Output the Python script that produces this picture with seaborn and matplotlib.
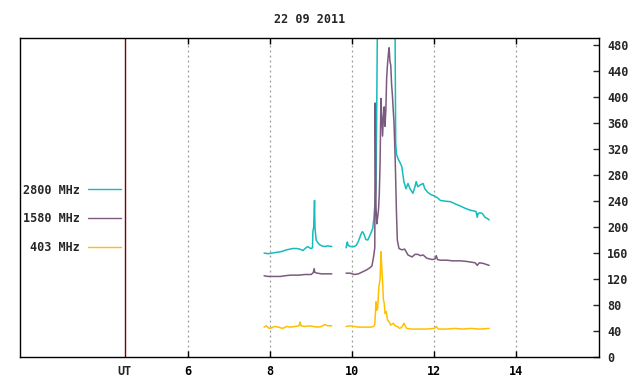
import numpy as np
import pandas as pd
import matplotlib
matplotlib.use("Agg")
import matplotlib.pyplot as plt
from matplotlib.lines import Line2D
import seaborn as sns

TITLE = "22 09 2011"
FREQ_LABELS = ["2800 MHz", "1580 MHz", "403 MHz"]
COLORS = ["#14bcbc", "#7b5a7e", "#ffc000"]

# two segments per series (gap around 9.5 - 9.85 UT)
T2800_A = [7.85, 7.95, 8.05, 8.15, 8.25, 8.31, 8.40, 8.48, 8.55, 8.65, 8.72, 8.80, 8.85,
           8.91, 8.96, 8.99, 9.03, 9.04, 9.06, 9.08, 9.09, 9.10, 9.12, 9.16, 9.20, 9.26,
           9.33, 9.40, 9.50]
V2800_A = [160, 159, 160, 161, 162, 163, 165, 166, 167, 167, 166, 164, 167,
           170, 168, 167, 168, 193, 200, 241, 200, 193, 180, 176, 173, 171,
           170, 171, 170]
T2800_B = [9.85, 9.88, 9.90, 9.95, 10.05, 10.10, 10.15, 10.22, 10.25, 10.28, 10.33, 10.38,
           10.45, 10.50, 10.53, 10.56, 10.58, 10.60, 10.62, 10.70, 10.80, 10.90, 11.00,
           11.04, 11.06, 11.08, 11.12, 11.16, 11.21, 11.26, 11.31, 11.36, 11.41, 11.48,
           11.53, 11.56, 11.60, 11.66, 11.73, 11.77, 11.85, 11.92, 12.00, 12.08, 12.15,
           12.25, 12.40, 12.50, 12.65, 12.75, 12.88, 12.95, 13.02, 13.05, 13.07, 13.12,
           13.17, 13.24, 13.30, 13.34]
V2800_B = [168, 177, 172, 170, 170, 172, 178, 190, 193, 190, 181, 180,
           190, 198, 215, 241, 260, 400, 560, 600, 620, 600, 580,
           560, 330, 312, 305, 300, 293, 270, 259, 267, 259, 252,
           262, 270, 262, 265, 267, 259, 253, 250, 248, 245, 241,
           240, 239, 236, 232, 229, 226, 225, 224, 215, 221, 222,
           221, 215, 213, 211]

T1580_A = [7.85, 7.95, 8.10, 8.25, 8.35, 8.50, 8.70, 8.85, 9.00, 9.05, 9.07, 9.09, 9.15,
           9.25, 9.35, 9.50]
V1580_A = [125, 124, 124, 124, 125, 126, 126, 127, 127, 130, 136, 130, 129,
           128, 128, 128]
T1580_B = [9.85, 9.95, 10.05, 10.15, 10.25, 10.35, 10.42, 10.48, 10.52, 10.55, 10.56,
           10.58, 10.60, 10.62, 10.64, 10.66, 10.68, 10.70, 10.72, 10.74, 10.76, 10.78,
           10.80, 10.82, 10.84, 10.86, 10.88, 10.90, 10.92, 10.94, 10.96, 10.98, 11.00,
           11.02, 11.05, 11.08, 11.10, 11.14, 11.21, 11.28, 11.36, 11.46, 11.53, 11.60,
           11.66, 11.73, 11.82, 11.95, 12.02, 12.05, 12.08, 12.15, 12.30, 12.45, 12.65,
           12.80, 13.00, 13.05, 13.10, 13.20, 13.34]
V1580_B = [129, 129, 127, 128, 131, 134, 137, 140, 154, 168, 391,
           230, 205, 215, 226, 250, 300, 398, 370, 340, 369, 385,
           355, 380, 430, 450, 465, 476, 455, 449, 420, 403, 380,
           360, 300, 220, 180, 167, 165, 166, 157, 154, 158, 158,
           156, 157, 152, 150, 151, 156, 150, 149, 149, 148, 148,
           147, 145, 141, 145, 144, 141]

T403_A = [7.85, 7.90, 7.95, 8.00, 8.10, 8.20, 8.30, 8.40, 8.50, 8.60, 8.70, 8.73, 8.75,
          8.85, 8.95, 9.05, 9.15, 9.25, 9.33, 9.40, 9.50]
V403_A = [46, 48, 45, 44, 47, 46, 44, 47, 46, 47, 48, 54, 48,
          47, 48, 47, 46, 47, 50, 48, 48]
T403_B = [9.85, 9.95, 10.05, 10.15, 10.25, 10.35, 10.45, 10.52, 10.55, 10.58, 10.60,
          10.62, 10.65, 10.68, 10.70, 10.72, 10.74, 10.76, 10.78, 10.80, 10.83, 10.86,
          10.90, 10.94, 11.00, 11.05, 11.10, 11.16, 11.22, 11.26, 11.30, 11.33, 11.45,
          11.60, 11.80, 12.00, 12.05, 12.10, 12.30, 12.50, 12.70, 12.90, 13.10, 13.34]
V403_B = [47, 48, 47, 46, 46, 46, 46, 47, 50, 85, 72,
          75, 108, 120, 162, 139, 116, 88, 83, 67, 70, 57,
          54, 49, 52, 48, 47, 44, 47, 52, 47, 44, 43,
          43, 43, 44, 47, 43, 43, 44, 43, 44, 43, 44]

UT_POS = 4.456
X_TICKS = [6, 8, 10, 12, 14]
Y_TICKS = list(range(0, 481, 40))


def build_frame():
    parts = []
    series = [
        (FREQ_LABELS[0], [(T2800_A, V2800_A), (T2800_B, V2800_B)]),
        (FREQ_LABELS[1], [(T1580_A, V1580_A), (T1580_B, V1580_B)]),
        (FREQ_LABELS[2], [(T403_A, V403_A), (T403_B, V403_B)]),
    ]
    for name, segs in series:
        for i, (t, v) in enumerate(segs):
            parts.append(pd.DataFrame({"t": t, "v": v, "freq": name, "seg": i}))
    return pd.concat(parts, ignore_index=True)


df = build_frame()

sns.set_style("white")
plt.rcParams["font.family"] = ["DejaVu Sans Mono"]
plt.rcParams["font.weight"] = "bold"
plt.rcParams["font.size"] = 8.5

fig = plt.figure(figsize=(6.4, 3.84), dpi=100)
ax = fig.add_axes([20 / 640, 27 / 384, 579 / 640, 319 / 384])

for name, col in zip(FREQ_LABELS, COLORS):
    sns.lineplot(data=df[df["freq"] == name], x="t", y="v", units="seg",
                 estimator=None, color=col, linewidth=1.1, ax=ax)

for x in X_TICKS:
    ax.axvline(x, color="#9a9a9a", linestyle=(0, (1.5, 2.5)), linewidth=0.9, zorder=0)
ax.axvline(UT_POS, color="#800000", linewidth=1.0, zorder=0)

ax.set_xlim(1.895, 16.02)
ax.set_ylim(0, 491)
ax.set_xticks(X_TICKS)
ax.set_xticks([UT_POS], labels=["UT"], minor=True)
ax.set_xticklabels([str(x) for x in X_TICKS])
ax.set_yticks(Y_TICKS)
ax.yaxis.tick_right()
ax.tick_params(axis="x", which="major", direction="in", length=4, width=1,
               top=True, bottom=True, pad=6, colors="black")
ax.tick_params(axis="x", which="minor", length=0, pad=6, labelsize=8.5)
ax.tick_params(axis="y", direction="in", length=4, width=1, left=False, right=True,
               pad=6)
ax.set_xlabel("")
ax.set_ylabel("")
for s in ax.spines.values():
    s.set_color("black")
    s.set_linewidth(1.0)
    s.set_visible(True)

handles = [Line2D([], [], color=c, linewidth=1.0) for c in COLORS]
ax.legend(handles, FREQ_LABELS, loc="center right", frameon=False,
          bbox_to_anchor=((121 - 20) / 579, (357 - 219) / 319),
          markerfirst=False, handlelength=2.8, handletextpad=0.7,
          labelspacing=1.35, borderpad=0, borderaxespad=0)

ax.set_title(TITLE, pad=11, fontsize=8.5, fontweight="bold")

fig.savefig("out.png", dpi=100)
